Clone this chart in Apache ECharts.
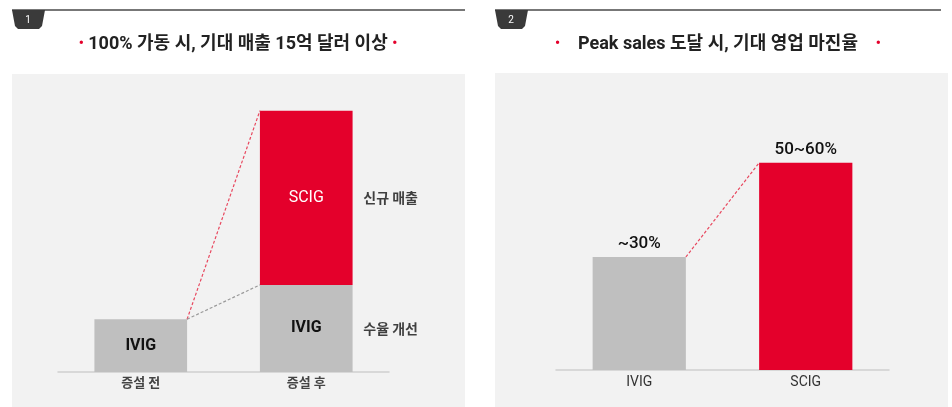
<!DOCTYPE html>
<html>
<head>
<meta charset="utf-8">
<script src="https://cdn.jsdelivr.net/npm/echarts@6/dist/echarts.min.js"></script>
<style>
  html, body { margin: 0; padding: 0; background: #fff; }
  #main { width: 952px; height: 407px; }
</style>
</head>
<body>
<div id="main"></div>
<script>
// 왼쪽: 증설 전/후 매출 구성
var categoriesL = ['증설 전', '증설 후'];
var ivigL = [2.0, 3.3];
var scigL = ['-', 6.6];
var noteLabels = ['수율 개선', '신규 매출'];

// 오른쪽: 영업 마진율
var categoriesR = ['IVIG', 'SCIG'];
var marginR = [30, 55];
var marginLabels = ['~30%', '50~60%'];

var RED = '#e4002b';
var GREY = '#bfbfbf';
var FONT = 'Roboto, "Noto Sans CJK KR", sans-serif';
var EDGE = 0.28; // half of bar width (56%) in category units

var myChart = echarts.init(document.getElementById('main'));

// 헤더 (탭 + 제목)
function header(x0, x1, num, title, cx) {
  return [
    { type: 'line', shape: { x1: x0, y1: 10, x2: x1, y2: 10 }, style: { stroke: '#777', lineWidth: 2 } },
    { type: 'polygon', shape: { points: [[x0, 10], [x0 + 33, 10], [x0 + 30, 26], [x0 + 27, 29], [x0 + 6, 29], [x0 + 3, 26]] }, style: { fill: '#3a3a3a' } },
    { type: 'text', x: x0 + 16, y: 20, style: { text: num, fill: '#fff', font: '10px ' + FONT, align: 'center', verticalAlign: 'middle' } },
    { type: 'text', x: cx, y: 44, style: {
        text: title, align: 'center', verticalAlign: 'middle',
        font: 'bold 18px ' + FONT, fill: '#222',
        rich: { d: { fill: RED, font: 'bold 14px ' + FONT } }
      } }
  ];
}

var option = {
  animation: false,
  textStyle: { fontFamily: FONT },
  graphic: [
    { type: 'rect', shape: { x: 12, y: 74, width: 453, height: 333 }, style: { fill: '#f2f2f2' }, z: -10 },
    { type: 'rect', shape: { x: 495, y: 73, width: 453, height: 334 }, style: { fill: '#f2f2f2' }, z: -10 }
  ].concat(
    header(12, 465, '1', '{d|•} 100% 가동 시, 기대 매출 15억 달러 이상 {d|•}', 238),
    header(495, 941, '2', '{d|•}    Peak sales 도달 시, 기대 영업 마진율    {d|•}', 718)
  ),
  grid: [
    { left: 58, right: 563, top: 108, bottom: 35 },
    { left: 556, right: 63, top: 144, bottom: 37 }
  ],
  xAxis: [
    {
      gridIndex: 0, type: 'category', data: categoriesL,
      axisLine: { lineStyle: { color: '#d0d0d0', width: 1.5 } },
      axisTick: { show: false },
      axisLabel: { color: '#444', fontSize: 13, fontWeight: 'bold', margin: 5 }
    },
    { gridIndex: 0, type: 'value', min: -0.5, max: 1.5, show: false },
    {
      gridIndex: 1, type: 'category', data: categoriesR,
      axisLine: { lineStyle: { color: '#d0d0d0', width: 1.5 } },
      axisTick: { show: false },
      axisLabel: { color: '#333', fontSize: 14, margin: 6 }
    },
    { gridIndex: 1, type: 'value', min: -0.5, max: 1.5, show: false }
  ],
  yAxis: [
    { gridIndex: 0, type: 'value', min: 0, max: 10, show: false },
    { gridIndex: 1, type: 'value', min: 0, max: 60, show: false }
  ],
  series: [
    {
      name: 'IVIG', type: 'bar', stack: 'a', xAxisIndex: 0, yAxisIndex: 0,
      data: ivigL, barWidth: '56%',
      itemStyle: { color: GREY },
      label: { show: true, position: 'inside', formatter: 'IVIG', color: '#111', fontSize: 16, fontWeight: 'bold' }
    },
    {
      name: 'SCIG', type: 'bar', stack: 'a', xAxisIndex: 0, yAxisIndex: 0,
      data: scigL, barWidth: '56%',
      itemStyle: { color: RED },
      label: { show: true, position: 'inside', formatter: 'SCIG', color: '#fff', fontSize: 16 }
    },
    {
      name: 'notes', type: 'scatter', xAxisIndex: 0, yAxisIndex: 0, symbolSize: 0, silent: true,
      data: [
        { name: noteLabels[0], value: [1, ivigL[1] / 2] },
        { name: noteLabels[1], value: [1, ivigL[1] + scigL[1] / 2] }
      ],
      label: {
        show: true, position: 'right', distance: 0, offset: [57, 0], formatter: '{b}',
        color: '#111', fontSize: 14, fontWeight: 'bold', fontFamily: '"Noto Sans CJK KR", sans-serif'
      }
    },
    {
      type: 'line', xAxisIndex: 1, yAxisIndex: 0, symbol: 'none', silent: true,
      data: [[EDGE, ivigL[0]], [1 - EDGE, ivigL[1] + scigL[1]]],
      lineStyle: { color: '#e8485f', width: 1.2, type: [3, 2] }
    },
    {
      type: 'line', xAxisIndex: 1, yAxisIndex: 0, symbol: 'none', silent: true,
      data: [[EDGE, ivigL[0]], [1 - EDGE, ivigL[1]]],
      lineStyle: { color: '#9a9a9a', width: 1.2, type: [3, 2] }
    },
    {
      name: 'margin', type: 'bar', xAxisIndex: 2, yAxisIndex: 1,
      data: marginR, barWidth: '56%',
      itemStyle: { color: function (p) { return p.dataIndex === 0 ? GREY : RED; } },
      label: {
        show: true, position: 'top', distance: 5,
        formatter: function (p) { return marginLabels[p.dataIndex]; },
        color: '#111', fontSize: 17, fontWeight: 500
      }
    },
    {
      type: 'line', xAxisIndex: 3, yAxisIndex: 1, symbol: 'none', silent: true,
      data: [[EDGE, marginR[0]], [1 - EDGE, marginR[1]]],
      lineStyle: { color: '#e8485f', width: 1.2, type: [3, 2] }
    }
  ]
};
myChart.setOption(option);
</script>
</body>
</html>
